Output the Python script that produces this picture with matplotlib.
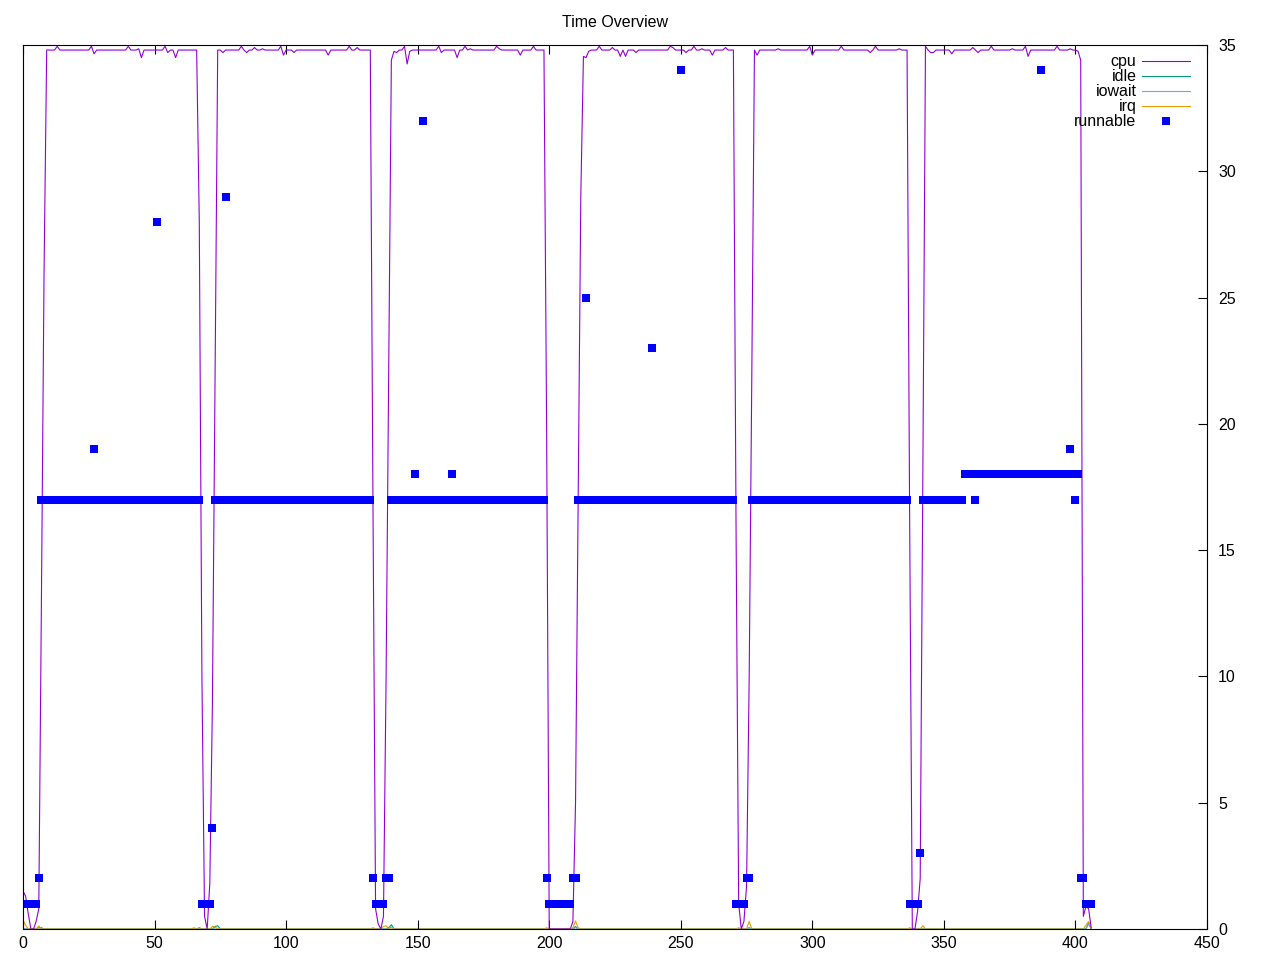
import numpy as np
import matplotlib
matplotlib.use("Agg")
import matplotlib.pyplot as plt

plt.rcParams["font.family"] = ["Liberation Sans", "DejaVu Sans"]
plt.rcParams["font.size"] = 11.5

n_samples = 407  # one sample per second, t = 0 .. 406

# cpu: flat runs at the plateau level, plus hand-read edges and wiggles
cpu_level = 34.8
cpu_plateaus = [(9, 66), (74, 132), (141, 198), (213, 270), (278, 336), (343, 401)]
cpu_points = {
    0: 1.5, 1: 1.3, 2: 0.6, 5: 0.3, 6: 0.8, 7: 13, 8: 26,
    13: 34.95, 26: 34.95, 27: 34.65, 40: 34.95, 44: 34.85, 45: 34.5,
    54: 34.95, 55: 34.7, 58: 34.5,
    67: 28, 68: 10, 69: 0.5, 71: 1.8, 72: 9, 73: 22,
    76: 34.7, 83: 34.95, 85: 34.7, 88: 34.9, 91: 34.85, 98: 34.95,
    99: 34.6, 103: 34.7, 116: 34.6, 124: 34.95, 127: 34.9,
    133: 17, 134: 0.8, 135: 0.2, 137: 0.5, 138: 10, 139: 22, 140: 34.4,
    141: 34.75, 142: 34.7, 145: 34.95, 146: 34.25, 147: 34.75, 158: 34.95,
    159: 34.7, 165: 34.5, 168: 34.95, 170: 34.85, 180: 34.95, 181: 34.85,
    189: 34.6, 194: 34.95,
    199: 20, 209: 0.3, 210: 5, 211: 17, 212: 29,
    213: 34.55, 214: 34.5, 215: 34.75, 219: 34.95, 224: 34.9, 227: 34.55,
    229: 34.55, 233: 34.7, 246: 34.95, 247: 34.9, 252: 34.7, 255: 34.95,
    258: 34.85, 262: 34.6, 267: 34.9,
    271: 16, 272: 1, 274: 0.3, 275: 1.7, 276: 10, 277: 22,
    279: 34.6, 287: 34.85, 299: 34.95, 300: 34.6, 311: 34.95, 322: 34.7,
    324: 34.95, 333: 34.85,
    337: 16, 340: 0.7, 341: 2.0, 342: 18,
    343: 34.95, 345: 34.7, 346: 34.7, 353: 34.65, 361: 34.9, 363: 34.7,
    368: 34.95, 376: 34.85, 381: 34.95, 382: 34.55, 393: 34.95, 398: 34.85,
    401: 34.75, 402: 34.4, 403: 0.5, 404: 0.9, 405: 0.8, 406: 0.05,
}

# idle / iowait / irq stay at zero except for small blips
idle_points = {6: 0.05, 7: 0.05, 67: 0.05, 73: 0.1, 74: 0.13, 139: 0.05,
               140: 0.17, 210: 0.1, 276: 0.05, 405: 0.25}
iowait_points = {140: 0.08, 210: 0.05, 405: 0.2}
irq_points = {0: 0.35, 1: 0.15, 6: 0.12, 65: 0.05, 72: 0.1, 73: 0.08,
              133: 0.05, 137: 0.1, 138: 0.13, 199: 0.05, 209: 0.05,
              210: 0.32, 211: 0.05, 272: 0.05, 276: 0.3, 337: 0.05,
              342: 0.13, 404: 0.15, 405: 0.3}

# runnable: runs of (first, last, value) and single outliers
runnable_runs = [(0, 5, 1), (6, 6, 2), (7, 67, 17), (68, 71, 1), (72, 72, 4),
                 (73, 132, 17), (133, 133, 2), (134, 137, 1), (138, 139, 2),
                 (140, 198, 17), (199, 199, 2), (200, 208, 1), (209, 210, 2),
                 (211, 270, 17), (271, 274, 1), (275, 276, 2), (277, 336, 17),
                 (337, 340, 1), (341, 341, 3), (342, 357, 17), (358, 401, 18),
                 (402, 403, 2), (404, 406, 1)]
runnable_points = {27: 19, 51: 28, 77: 29, 149: 18, 152: 32, 163: 18, 214: 25,
                   239: 23, 250: 34, 362: 17, 387: 34, 398: 19, 400: 17}

t = np.arange(n_samples)
cpu = np.zeros(n_samples)
for a, b in cpu_plateaus:
    cpu[a:b + 1] = cpu_level
for k, v in cpu_points.items():
    cpu[k] = v


def from_points(pts):
    arr = np.zeros(n_samples)
    for k, v in pts.items():
        arr[k] = v
    return arr


idle = from_points(idle_points)
iowait = from_points(iowait_points)
irq = from_points(irq_points)

runnable = np.zeros(n_samples)
for a, b, v in runnable_runs:
    runnable[a:b + 1] = v
for k, v in runnable_points.items():
    runnable[k] = v

fig = plt.figure(figsize=(12.8, 9.6), dpi=100)
ax = fig.add_axes([23 / 1280, 31 / 960, 1184 / 1280, 884 / 960])

lw = 0.8
ax.plot(t, cpu, color="#9400d3", lw=lw, label="cpu")
ax.plot(t, idle, color="#009e73", lw=lw, label="idle", zorder=1.5)
ax.plot(t, iowait, color="#56b4e9", lw=lw, label="iowait", zorder=1.5)
ax.plot(t, irq, color="#e69f00", lw=lw, label="irq", zorder=1.5)
ax.plot(t, runnable, ls="none", marker="s", ms=5.2, mew=0, color="#0000ff",
        label="runnable")

ax.set_xlim(0, 450)
ax.set_ylim(0, 35)
ax.set_xticks(np.arange(0, 451, 50))
ax.set_yticks(np.arange(0, 36, 5))
ax.tick_params(axis="x", direction="in", top=True, bottom=True, length=6.5,
               width=0.8, pad=5)
ax.tick_params(axis="y", direction="in", left=False, right=True,
               labelleft=False, labelright=True, length=6.5, width=0.8, pad=8)
for s in ax.spines.values():
    s.set_linewidth(0.8)
    s.set_zorder(3)

ax.set_title("Time Overview", fontsize=11.5, pad=13)

ax.legend(loc="upper right", bbox_to_anchor=(0.9856, 0.9897), frameon=False,
          markerfirst=False, handlelength=3.0, handletextpad=0.35,
          labelspacing=0.0, borderaxespad=0, borderpad=0, fontsize=11.5)

fig.savefig("out.png", dpi=100)
